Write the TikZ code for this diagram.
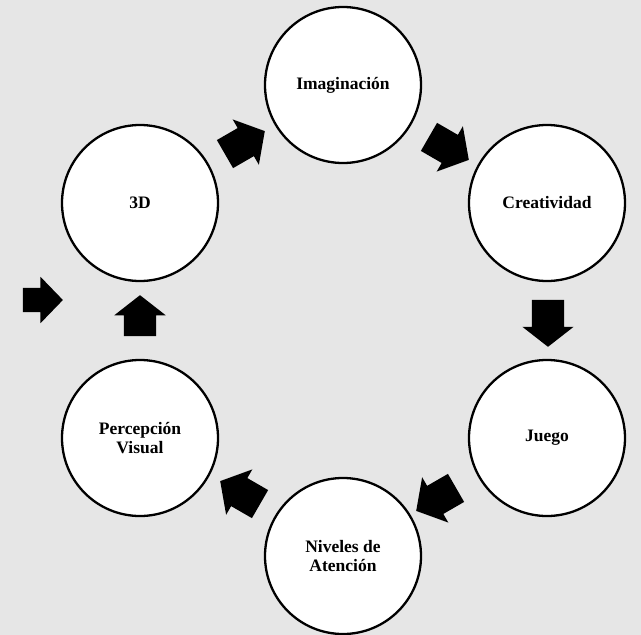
\documentclass[tikz,border=0pt]{standalone}
\usepackage{fontspec}
\setmainfont{Liberation Serif}
\usetikzlibrary{shapes.arrows}
\definecolor{bggray}{RGB}{230,230,230}
\tikzset{
  circ/.style={circle, draw=black, line width=2.3pt, fill=white, minimum size=156pt, inner sep=0pt, align=center, font=\fontsize{17.5}{19.5}\selectfont\bfseries},
  blockarrow/.style={single arrow, fill=black, draw=none, inner xsep=0pt, inner ysep=#1/2},
  bigarrow/.style={blockarrow=32pt, minimum height=46pt, single arrow head extend=10pt, single arrow tip angle=100},
  smallarrow/.style={blockarrow=32pt, minimum height=41pt, single arrow head extend=9.5pt, single arrow tip angle=104},
}
\begin{document}
\begin{tikzpicture}[x=1pt,y=-1pt]
\fill[bggray] (0,0) rectangle (641,635);
\useasboundingbox (0,0) rectangle (641,635);
\node[circ] (ima) at (343,85) {Imaginación};
\node[circ] (cre) at (547,203) {Creatividad};
\node[circ] (jue) at (547,438) {Juego};
\node[circ] (niv) at (343,556) {Niveles de\\Atención};
\node[circ] (per) at (140,438) {Percepción\\Visual};
\node[circ] (tdd) at (140,203) {3D};
\node[bigarrow, rotate=30] (a1) at (239,146) {};
\node[bigarrow, rotate=-30] (a2) at (443,145) {};
\node[smallarrow, rotate=-90, minimum height=47pt] (a3) at (548,317) {};
\node[bigarrow, rotate=210] (a4) at (442,496) {};
\node[bigarrow, rotate=150] (a5) at (246,496) {};
\node[smallarrow, rotate=90] (a6) at (140,322) {};
\node[blockarrow=24pt, minimum height=40pt, single arrow head extend=11pt, single arrow tip angle=92] (a7) at (37,300) {};
\end{tikzpicture}
\end{document}
